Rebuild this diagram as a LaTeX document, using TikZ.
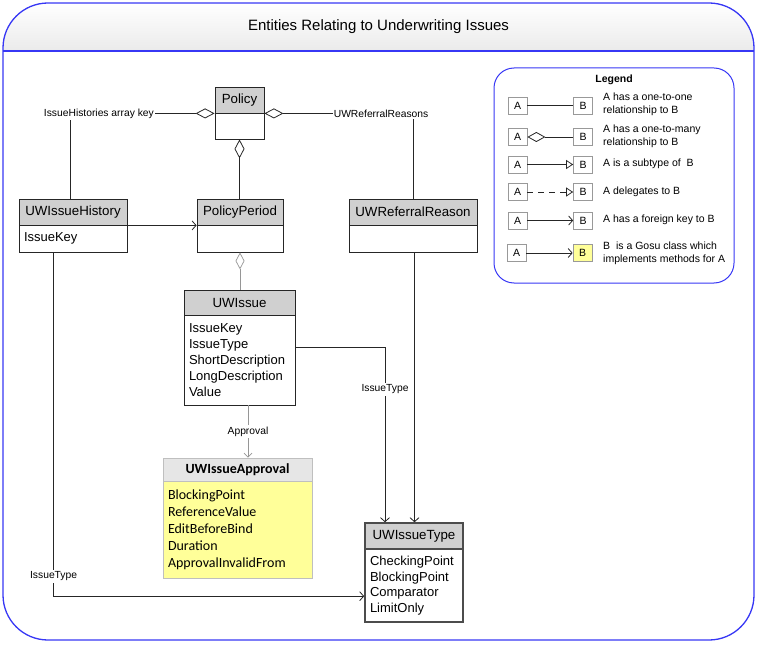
\documentclass[tikz,border=0pt]{standalone}
\usepackage{fontspec}
\setmainfont{Liberation Sans}
\newfontfamily\calfont{Carlito}
\usetikzlibrary{arrows.meta}
\definecolor{frameblue}{RGB}{55,55,245}
\definecolor{hdrgray}{RGB}{208,208,208}
\definecolor{apphdr}{RGB}{230,230,230}
\definecolor{appbody}{RGB}{255,255,153}
\definecolor{linegray}{RGB}{150,150,150}
\newcommand\umlclass[9]{%
  \pgfmathsetlengthmacro\mywd{(#4-#2)*1pt}%
  \pgfmathsetlengthmacro\myhh{(#5-#3)*1pt}%
  \pgfmathsetlengthmacro\mybh{(#6-#5)*1pt}%
  \pgfmathsetlengthmacro\mytw{(#4-#2)*1pt-10pt}%
  \node[hdr#9,minimum width=\mywd,minimum height=\myhh] (#1) at ({(#2+#4)/2},{(#3+#5)/2}) {#7};
  \node[body#9,minimum width=\mywd,minimum height=\mybh,text width=\mytw] (#1b) at ({(#2+#4)/2},{(#5+#6)/2}) {#8};
}
\begin{document}
\begin{tikzpicture}[x=1pt,y=-1pt,
  hdrstd/.style={draw=black!85,fill=hdrgray,line width=0.8pt,inner sep=0pt,font=\fontsize{13.3}{16}\selectfont},
  bodystd/.style={draw=black!85,fill=white,line width=0.8pt,inner xsep=5pt,inner ysep=0pt,align=left,font=\fontsize{13}{16}\selectfont},
  hdrtyp/.style={draw=black!70,fill=hdrgray,line width=1.6pt,inner sep=0pt,font=\fontsize{13.3}{16}\selectfont},
  bodytyp/.style={draw=black!70,fill=white,line width=1.6pt,inner xsep=5pt,inner ysep=0pt,align=left,font=\fontsize{13}{15.7}\selectfont},
  hdrapp/.style={draw=black!25,fill=apphdr,line width=0.8pt,inner sep=0pt,font=\calfont\bfseries\fontsize{14}{17}\selectfont},
  bodyapp/.style={draw=black!25,fill=appbody,line width=0.8pt,inner xsep=4pt,inner ysep=0pt,align=left,font=\calfont\fontsize{14}{17}\selectfont},
  conn/.style={draw=black!85,line width=0.8pt},
  connlight/.style={draw=linegray,line width=0.7pt},
  lbl/.style={fill=white,inner xsep=1pt,inner ysep=2pt,font=\fontsize{10.3}{12}\selectfont},
  barb/.style={-{Straight Barb[length=4pt,width=9pt]}},
  dia/.style={{Diamond[open,length=19pt,width=10pt]}-},
  legbox/.style={draw=black!40,fill=white,line width=0.7pt,minimum width=19pt,minimum height=17pt,inner sep=0pt,font=\fontsize{10.5}{12}\selectfont},
  legtxt/.style={anchor=west,align=left,inner sep=0pt,font=\fontsize{10.5}{12.8}\selectfont}
]
\useasboundingbox (0,0) rectangle (782,655);
% frame
\begin{scope}
  \clip[rounded corners=45pt] (3,3) rectangle (754,640);
  \fill[top color=white,bottom color=black!8] (3,3) rectangle (754,51);
\end{scope}
\draw[frameblue,line width=1.3pt,rounded corners=45pt] (3,3) rectangle (754,640);
\draw[frameblue,line width=1.3pt] (3,51) -- (754,51);
\node[font=\fontsize{15}{18}\selectfont] (title) at (378.5,27) {Entities Relating to Underwriting Issues};

% classes
\umlclass{policy}{215}{87}{264}{113}{139}{Policy}{}{std}
\umlclass{pp}{197}{199}{283}{225}{252}{PolicyPeriod}{}{std}
\umlclass{uh}{19}{199}{127}{225}{252}{UWIssueHistory}{IssueKey}{std}
\umlclass{ur}{349}{199}{477}{225}{252}{UWReferralReason}{}{std}
\umlclass{ui}{184}{290}{295}{315}{405}{UWIssue}{IssueKey\\IssueType\\ShortDescription\\LongDescription\\Value}{std}
\umlclass{app}{163}{458}{312}{481}{578}{UWIssueApproval}{BlockingPoint\\ReferenceValue\\EditBeforeBind\\Duration\\ApprovalInvalidFrom}{app}
\umlclass{ut}{365}{523}{463}{549}{622}{UWIssueType}{CheckingPoint\\BlockingPoint\\Comparator\\LimitOnly}{typ}

% connectors
\draw[conn,dia] (policyb.south) -- (policyb.south |- pp.north);
\draw[conn,dia] (policy.south west) -- ([xshift=-3pt]uh.north |- policy.south west)
   node[lbl,pos=0.8] (lih) {IssueHistories array key} -- ([xshift=-3pt]uh.north);
\draw[conn,dia] (policy.south east) -- (ur.north |- policy.south east)
   node[lbl,pos=0.785] (lur) {UWReferralReasons} -- (ur.north);
\draw[conn,barb] (uh.south east) -- (pp.south west);
\draw[connlight,{Diamond[open,length=17pt,width=9pt]}-] (ppb.south) -- (ppb.south |- ui.north);
\draw[connlight,-{Straight Barb[length=4pt,width=8pt]}] ([xshift=8.5pt]uib.south) -- ([xshift=8.5pt]uib.south |- app.north)
   node[lbl,pos=0.5] (lap) {Approval};
\draw[conn,barb] ([yshift=-33pt]uib.north east) -| ([xshift=-29pt]ut.north)
   node[lbl,pos=0.62] (lit) {IssueType};
\draw[conn,barb] ([xshift=1.5pt]urb.south) -- ([xshift=1.5pt]urb.south |- ut.north);
\draw[conn,barb] ([xshift=35pt]uhb.south west) |- ([yshift=-74pt]ut.north west)
   node[lbl,pos=0.471] (lit2) {IssueType};

% legend
\draw[frameblue,line width=1pt,rounded corners=20pt] (494,68) rectangle (734,283);
\node[font=\bfseries\fontsize{10.5}{12}\selectfont] (legtitle) at (614,80) {Legend};
\node[legbox] (la1) at (517.5,105.5) {A};
\node[legbox] (lb1) at (583,105.5) {B};
\node[legbox] (la2) at (517.5,137) {A};
\node[legbox] (lb2) at (583,137) {B};
\node[legbox] (la3) at (517.5,164.5) {A};
\node[legbox] (lb3) at (583,164.5) {B};
\node[legbox] (la4) at (517.5,192) {A};
\node[legbox] (lb4) at (583,192) {B};
\node[legbox] (la5) at (517.5,220.5) {A};
\node[legbox] (lb5) at (583,220.5) {B};
\node[legbox] (la6) at (516.5,253) {A};
\node[legbox,fill=appbody] (lb6) at (582.5,253) {B};
\draw[conn] (la1) -- (lb1);
\draw[conn,{Diamond[open,length=18pt,width=10pt]}-] (la2) -- (lb2);
\draw[conn,-{Triangle[open,length=7pt,width=9pt]}] (la3) -- (lb3);
\draw[conn,dashed,dash pattern=on 6pt off 5pt,-{Triangle[open,length=7pt,width=9pt]}] (la4) -- (lb4);
\draw[conn,barb] (la5) -- (lb5);
\draw[conn,barb] (la6) -- (lb6);
\node[legtxt] (lt1) at (603,104.5) {A has a one-to-one\\relationship to B};
\node[legtxt] (lt2) at (603,136) {A has a one-to-many\\relationship to B};
\node[legtxt] (lt3) at (603,164) {A is a subtype of\ \ B};
\node[legtxt] (lt4) at (603,192) {A delegates to B};
\node[legtxt] (lt5) at (603,220) {A has a foreign key to B};
\node[legtxt] (lt6) at (603,253) {B\ \ is a Gosu class which\\implements methods for A};
\end{tikzpicture}
\end{document}
